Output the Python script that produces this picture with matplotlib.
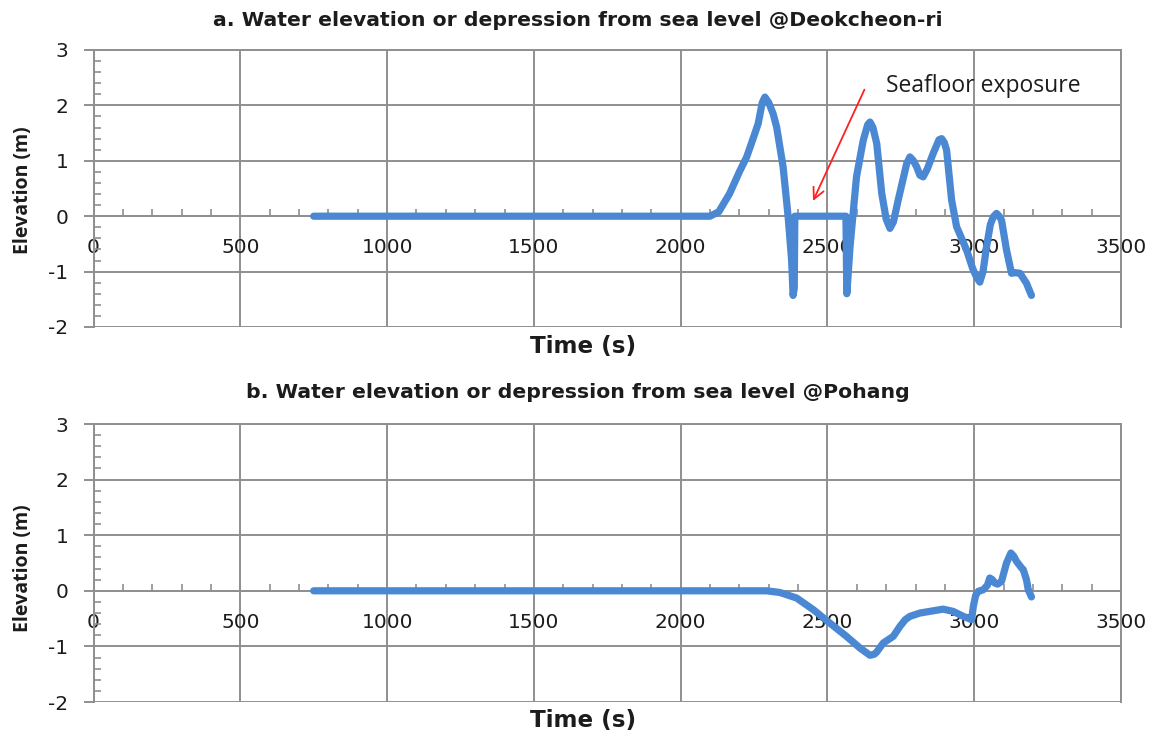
import matplotlib
matplotlib.use("Agg")
import matplotlib.pyplot as plt
from matplotlib.ticker import MultipleLocator

# Water level time series (time in s, elevation in m)
time_a = [750, 2100, 2130, 2167, 2200, 2225, 2250, 2264, 2278, 2287, 2300, 2315,
          2327, 2349, 2366, 2378, 2383, 2387, 2389, 2563, 2566, 2570, 2577, 2599,
          2622, 2637, 2645, 2655, 2668, 2685, 2700, 2713, 2725, 2741, 2770, 2781,
          2793, 2804, 2815, 2826, 2840, 2860, 2880, 2889, 2898, 2906, 2923, 2940,
          2974, 2995, 3008, 3019, 3030, 3042, 3055, 3065, 3076, 3085, 3093, 3110,
          3127, 3140, 3156, 3178, 3195]
elev_a = [0.0, 0.0, 0.08, 0.41, 0.80, 1.07, 1.45, 1.67, 2.05, 2.15, 2.05, 1.85,
          1.61, 0.89, 0.0, -0.79, -1.43, -1.30, 0.0, 0.0, -1.40, -1.10, -0.55, 0.71,
          1.37, 1.65, 1.70, 1.60, 1.31, 0.41, -0.05, -0.22, -0.10, 0.29, 0.95, 1.07,
          1.00, 0.89, 0.74, 0.71, 0.85, 1.13, 1.38, 1.40, 1.33, 1.19, 0.29, -0.19,
          -0.61, -0.95, -1.10, -1.19, -1.00, -0.55, -0.15, -0.01, 0.05, 0.0, -0.07, -0.61,
          -1.03, -1.02, -1.03, -1.21, -1.43]

time_b = [750, 2293, 2300, 2338, 2395, 2452, 2508, 2565, 2611, 2645, 2660, 2668,
          2690, 2724, 2747, 2765, 2781, 2815, 2860, 2894, 2928, 2963, 2991, 2997,
          3005, 3014, 3031, 3045, 3053, 3062, 3070, 3080, 3093, 3110, 3125, 3135,
          3144, 3160, 3167, 3178, 3184, 3195]
elev_b = [0.0, 0.0, -0.005, -0.03, -0.13, -0.34, -0.58, -0.82, -1.03, -1.16, -1.14, -1.10,
          -0.94, -0.82, -0.64, -0.52, -0.46, -0.40, -0.36, -0.33, -0.37, -0.46, -0.52, -0.28,
          -0.08, -0.01, 0.02, 0.10, 0.23, 0.20, 0.14, 0.12, 0.17, 0.50, 0.68, 0.62,
          0.53, 0.42, 0.38, 0.20, 0.02, -0.11]

titles = ["a. Water elevation or depression from sea level @Deokcheon-ri",
          "b. Water elevation or depression from sea level @Pohang"]
x_label = "Time (s)"
y_label = "Elevation (m)"
x_ticks = [0, 500, 1000, 1500, 2000, 2500, 3000, 3500]
note_text = "Seafloor exposure"
note_xy = (2700, 2.35)
arrow_tail = (2630, 2.33)
arrow_head = (2447, 0.23)

plt.rcParams["font.family"] = ["DejaVu Sans"]
plt.rcParams["axes.unicode_minus"] = False

LINE = "#4a88d4"
GRID = "#8f8f8f"
INK = "#1c1c1c"

fig = plt.figure(figsize=(11.56, 7.37), dpi=100)
W, H = 1156, 737
panels = [(50, 327), (424, 702)]
axes = []
for (top, bot) in panels:
    ax = fig.add_axes([93.5 / W, 1 - bot / H, (1121 - 93.5) / W, (bot - top) / H])
    axes.append(ax)

series = [(time_a, elev_a), (time_b, elev_b)]
for i, ax in enumerate(axes):
    t, e = series[i]
    ax.plot(t, e, color=LINE, lw=5.2, solid_capstyle="round",
            solid_joinstyle="round", zorder=3)
    ax.set_xlim(0, 3500)
    ax.set_ylim(-2, 3)
    ax.xaxis.set_minor_locator(MultipleLocator(100))
    ax.yaxis.set_major_locator(MultipleLocator(1))
    ax.yaxis.set_minor_locator(MultipleLocator(0.2))
    ax.grid(True, which="major", color=GRID, lw=1.4, zorder=1)
    ax.spines["bottom"].set_position(("data", 0))
    for s in ax.spines.values():
        s.set_color(GRID)
        s.set_linewidth(1.4)
    ax.tick_params(axis="x", which="major", length=0, pad=16,
                   labelsize=14.5, labelcolor=INK)
    ax.tick_params(axis="x", which="minor", direction="in", length=5,
                   width=1.2, color=GRID)
    ax.tick_params(axis="y", which="major", direction="out", length=7,
                   width=1.4, color=GRID, labelsize=14.5, labelcolor=INK, pad=11)
    ax.tick_params(axis="y", which="minor", direction="in", length=5,
                   width=1.2, color=GRID)
    ax.set_xticks(x_ticks)
    ax.set_xticklabels([str(v) for v in x_ticks])
    for lbl in ax.get_xticklabels():
        lbl.set_zorder(4)

# Titles and axis labels in figure coordinates
title_y = [21, 393]
xlabel_y = [346, 721]
ylabel_y = [190, 568]
for i in range(2):
    fig.text(578 / W, 1 - title_y[i] / H, titles[i], ha="center", va="center",
             fontsize=14.7, fontweight="bold", color=INK)
    fig.text(583 / W, 1 - xlabel_y[i] / H, x_label, ha="center", va="center",
             fontsize=16.6, fontweight="bold", color=INK)
    fig.text(23 / W, 1 - ylabel_y[i] / H, y_label, ha="center", va="center",
             rotation=90, fontsize=14, fontweight="bold", color=INK,
             family=["Open Sans", "DejaVu Sans"])

axes[0].annotate("", xy=arrow_head, xytext=arrow_tail,
                 arrowprops=dict(arrowstyle="->,head_length=0.8,head_width=0.4",
                                 color="#ff2020", lw=1.3), zorder=5)
axes[0].text(note_xy[0], note_xy[1], note_text, ha="left", va="center",
             fontsize=16.5, color=INK, family=["Open Sans", "DejaVu Sans"])

fig.savefig("out.png", dpi=100, facecolor="white")
